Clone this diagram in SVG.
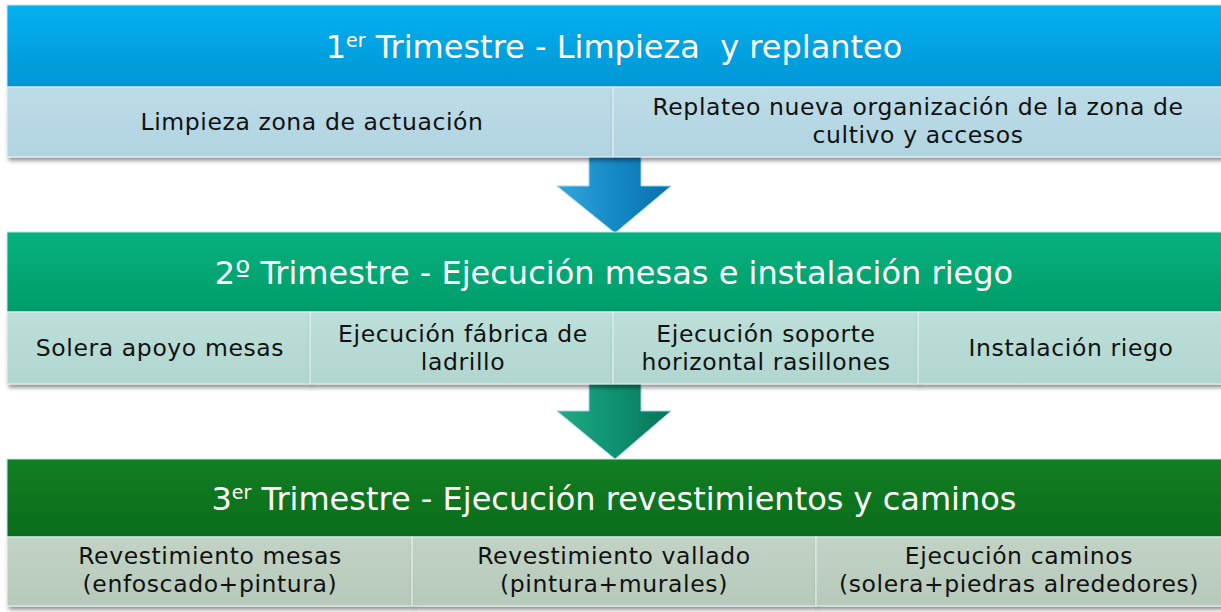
<svg xmlns="http://www.w3.org/2000/svg" width="1221" height="612" viewBox="0 0 1221 612">
<defs>
<linearGradient id="g1" x1="0" y1="0" x2="0" y2="1"><stop offset="0" stop-color="#04B0F0"/><stop offset="1" stop-color="#0096D4"/></linearGradient>
<linearGradient id="g2" x1="0" y1="0" x2="0" y2="1"><stop offset="0" stop-color="#06B27E"/><stop offset="1" stop-color="#009C6A"/></linearGradient>
<linearGradient id="g3" x1="0" y1="0" x2="0" y2="1"><stop offset="0" stop-color="#127F22"/><stop offset="1" stop-color="#0A6C1A"/></linearGradient>
<linearGradient id="s1" x1="0" y1="0" x2="0" y2="1"><stop offset="0" stop-color="#BCDCE7"/><stop offset="1" stop-color="#B1D4E1"/></linearGradient>
<linearGradient id="s2" x1="0" y1="0" x2="0" y2="1"><stop offset="0" stop-color="#BCDFD9"/><stop offset="1" stop-color="#B1D6CF"/></linearGradient>
<linearGradient id="s3" x1="0" y1="0" x2="0" y2="1"><stop offset="0" stop-color="#C2D3C6"/><stop offset="1" stop-color="#B6C9BA"/></linearGradient>
<linearGradient id="a1" x1="0" y1="0" x2="1" y2="0"><stop offset="0" stop-color="#35A6DC"/><stop offset="0.5" stop-color="#1489C6"/><stop offset="1" stop-color="#0A70AE"/></linearGradient>
<linearGradient id="a2" x1="0" y1="0" x2="1" y2="0"><stop offset="0" stop-color="#22AA84"/><stop offset="0.5" stop-color="#0E9270"/><stop offset="1" stop-color="#087458"/></linearGradient>
<filter id="sh" x="-5%" y="-20%" width="110%" height="150%"><feDropShadow dx="2" dy="3" stdDeviation="2" flood-color="#000" flood-opacity="0.45"/></filter>
</defs>
<style>
.hd{font-family:"DejaVu Sans","Liberation Sans",sans-serif;font-size:32px;fill:#FFFFFF;text-anchor:middle;white-space:pre}
.tx{font-family:"DejaVu Sans","Liberation Sans",sans-serif;font-size:23.5px;letter-spacing:0.6px;fill:#111111;text-anchor:middle}
.cell{stroke:#E8F0F2;stroke-width:1;filter:url(#sh)}
.hbox{stroke:#BFE6F4;stroke-width:1}
.arrow{stroke:#9ED4EC;stroke-width:1}
</style>
<g id="connectors">
<path class="arrow" d="M589,150 H641 V186 H671 L615,233 L557,186 H589 Z" fill="url(#a1)"/>
<path class="arrow" d="M589,378 H641 V411 H671 L615,459 L557,411 H589 Z" fill="url(#a2)" stroke="#8FD6BE"/>
</g>
<g id="h1">
<rect class="hbox" x="7" y="5" width="1216" height="82" fill="url(#g1)"/>
<text class="hd" x="614" y="58">1<tspan font-size="19" dy="-11">er</tspan><tspan dy="11"> Trimestre - Limpieza  y replanteo</tspan></text>
</g>
<g id="t1a"><rect class="cell" x="7" y="87" width="606" height="70" fill="url(#s1)"/><text class="tx" x="312" y="130">Limpieza zona de actuación</text></g>
<g id="t1b"><rect class="cell" x="613" y="87" width="610" height="70" fill="url(#s1)"/><text class="tx" x="918" y="115">Replateo nueva organización de la zona de</text><text class="tx" x="918" y="143">cultivo y accesos</text></g>
<g id="h2">
<rect class="hbox" x="7" y="232" width="1216" height="80" fill="url(#g2)" stroke="#A8E6CF"/>
<text class="hd" x="614" y="284">2º Trimestre - Ejecución mesas e instalación riego</text>
</g>
<g id="t2a"><rect class="cell" x="7" y="312" width="303" height="72" fill="url(#s2)"/><text class="tx" x="160" y="356">Solera apoyo mesas</text></g>
<g id="t2b"><rect class="cell" x="310" y="312" width="303" height="72" fill="url(#s2)"/><text class="tx" x="463" y="342">Ejecución fábrica de</text><text class="tx" x="463" y="370">ladrillo</text></g>
<g id="t2c"><rect class="cell" x="613" y="312" width="305" height="72" fill="url(#s2)"/><text class="tx" x="766" y="342">Ejecución soporte</text><text class="tx" x="766" y="370">horizontal rasillones</text></g>
<g id="t2d"><rect class="cell" x="918" y="312" width="305" height="72" fill="url(#s2)"/><text class="tx" x="1071" y="356">Instalación riego</text></g>
<g id="h3">
<rect class="hbox" x="7" y="459" width="1216" height="78" fill="url(#g3)" stroke="#6FB07A"/>
<text class="hd" x="614" y="510">3<tspan font-size="19" dy="-11">er</tspan><tspan dy="11"> Trimestre - Ejecución revestimientos y caminos</tspan></text>
</g>
<g id="t3a"><rect class="cell" x="7" y="537" width="405" height="69" fill="url(#s3)"/><text class="tx" x="210" y="564">Revestimiento mesas</text><text class="tx" x="210" y="592">(enfoscado+pintura)</text></g>
<g id="t3b"><rect class="cell" x="412" y="537" width="404" height="69" fill="url(#s3)"/><text class="tx" x="614" y="564">Revestimiento vallado</text><text class="tx" x="614" y="592">(pintura+murales)</text></g>
<g id="t3c"><rect class="cell" x="816" y="537" width="407" height="69" fill="url(#s3)"/><text class="tx" x="1019" y="564">Ejecución caminos</text><text class="tx" x="1019" y="592">(solera+piedras alrededores)</text></g>
</svg>
